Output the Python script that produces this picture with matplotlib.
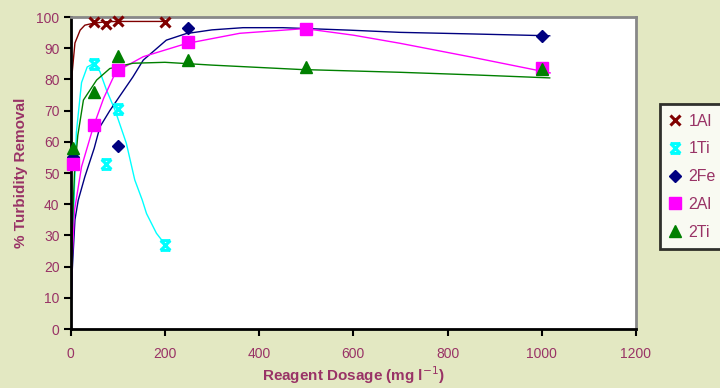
import matplotlib
matplotlib.use("Agg")
import matplotlib.pyplot as plt
from matplotlib.path import Path

plt.rcParams['font.family'] = ['Liberation Sans', 'DejaVu Sans']

# measured points (dose mg/l, % removal)
al1_x = [50, 75, 100, 200]
al1_y = [98.4, 97.8, 98.8, 98.4]
ti1_x = [50, 75, 100, 200]
ti1_y = [85.0, 53.0, 70.5, 27.0]
fe2_x = [5, 100, 250, 1000]
fe2_y = [55.0, 58.8, 96.6, 93.9]
al2_x = [5, 50, 100, 250, 500, 1000]
al2_y = [52.8, 65.4, 83.0, 92.0, 96.2, 83.7]
ti2_x = [5, 50, 100, 250, 500, 1000]
ti2_y = [58.0, 76.0, 87.6, 86.2, 84.0, 83.3]

# fitted curves
al1_cx = [0, 1, 3, 9, 20, 30, 47, 75, 100, 200]
al1_cy = [0, 60, 82, 91.7, 95.8, 97.4, 98.0, 98.5, 98.6, 98.6]
ti1_cx = [0, 3, 7, 12, 23, 35, 50, 62, 76, 94, 118, 136, 152, 161, 182, 200]
ti1_cy = [0, 22, 41, 63, 79, 84, 85.2, 82.5, 76.6, 70.2, 59.6, 47.8, 41.3, 37, 30.7, 27.2]
fe2_cx = [0, 3, 9, 16, 30, 50, 62, 83, 132, 154, 203, 245, 300, 366, 450, 593, 699, 850, 1017]
fe2_cy = [0, 18, 35, 41.3, 48.8, 58, 64.8, 70, 80.8, 86.2, 92.6, 94.7, 95.9, 96.6, 96.6, 95.8, 95.1, 94.6, 94.0]
al2_cx = [0, 3, 8, 23, 48, 70, 96, 154, 245, 359, 497, 600, 699, 850, 1018]
al2_cy = [0, 22, 38, 52, 64.8, 74, 82.5, 87.3, 91.5, 94.8, 96.3, 94.2, 91.6, 87.2, 82.1]
ti2_cx = [0, 3, 8, 15, 27, 55, 83, 132, 200, 300, 487, 699, 850, 1017]
ti2_cy = [0, 30, 50, 62, 73.4, 79.8, 83.5, 85.2, 85.5, 84.6, 83.2, 82.3, 81.5, 80.5]

# hourglass marker like the cyan one
hg = Path([(-1, 1), (1, 1), (-1, 1), (1, -1), (1, 1), (-1, -1), (-1, -1), (1, -1)],
          [Path.MOVETO, Path.LINETO, Path.MOVETO, Path.LINETO,
           Path.MOVETO, Path.LINETO, Path.MOVETO, Path.LINETO])

fig = plt.figure(figsize=(7.2, 3.88), dpi=100, facecolor='#E3E8C2')
ax = fig.add_axes([0.0982, 0.152, 0.785, 0.804])
ax.set_facecolor('white')

series = [
    ("1Al", al1_x, al1_y, al1_cx, al1_cy, '#800000', 'x', 7, 2.2),
    ("1Ti", ti1_x, ti1_y, ti1_cx, ti1_cy, '#00FFFF', hg, 7, 2.2),
    ("2Fe", fe2_x, fe2_y, fe2_cx, fe2_cy, '#000080', 'D', 6.5, 1),
    ("2Al", al2_x, al2_y, al2_cx, al2_cy, '#FF00FF', 's', 8, 1),
    ("2Ti", ti2_x, ti2_y, ti2_cx, ti2_cy, '#008000', '^', 8, 1),
]
handles = []
for name, px, py, cx, cy, col, mk, ms, mew in series:
    ax.plot(cx, cy, color=col, lw=1.0, zorder=2)
    h, = ax.plot(px, py, ls='none', marker=mk, ms=ms, mew=mew,
                 mfc=col, mec=col, label=name, zorder=3, clip_on=False)
    handles.append(h)

ax.set_xlim(0, 1200)
ax.set_ylim(0, 100)
ax.set_xticks(range(0, 1201, 200))
ax.set_yticks(range(0, 101, 10))
for s in ['left', 'bottom']:
    ax.spines[s].set_color('black')
    ax.spines[s].set_linewidth(2)
for s in ['top', 'right']:
    ax.spines[s].set_color('#888888')
    ax.spines[s].set_linewidth(2)
ax.tick_params(axis='both', direction='out', length=5, width=1.5, color='black',
               labelcolor='#993366', labelsize=10)
ax.tick_params(axis='x', pad=8)
ax.tick_params(axis='y', pad=3)

ax.set_xlabel('Reagent Dosage (mg l$^{-1}$)', fontsize=11, fontweight='bold',
              color='#993366', labelpad=2)
ax.set_ylabel('% Turbidity Removal', fontsize=11, fontweight='bold',
              color='#993366', labelpad=6)

leg = fig.legend(handles=handles, loc='upper left', bbox_to_anchor=(0.916, 0.732),
                 borderaxespad=0, frameon=True, fancybox=False, edgecolor='black',
                 fontsize=11.5, handlelength=0.8, handletextpad=0.4,
                 labelspacing=0.8, borderpad=0.6)
leg.get_frame().set_linewidth(2)
for t in leg.get_texts():
    t.set_color('#993366')

fig.savefig('out.png', dpi=100, facecolor=fig.get_facecolor())
